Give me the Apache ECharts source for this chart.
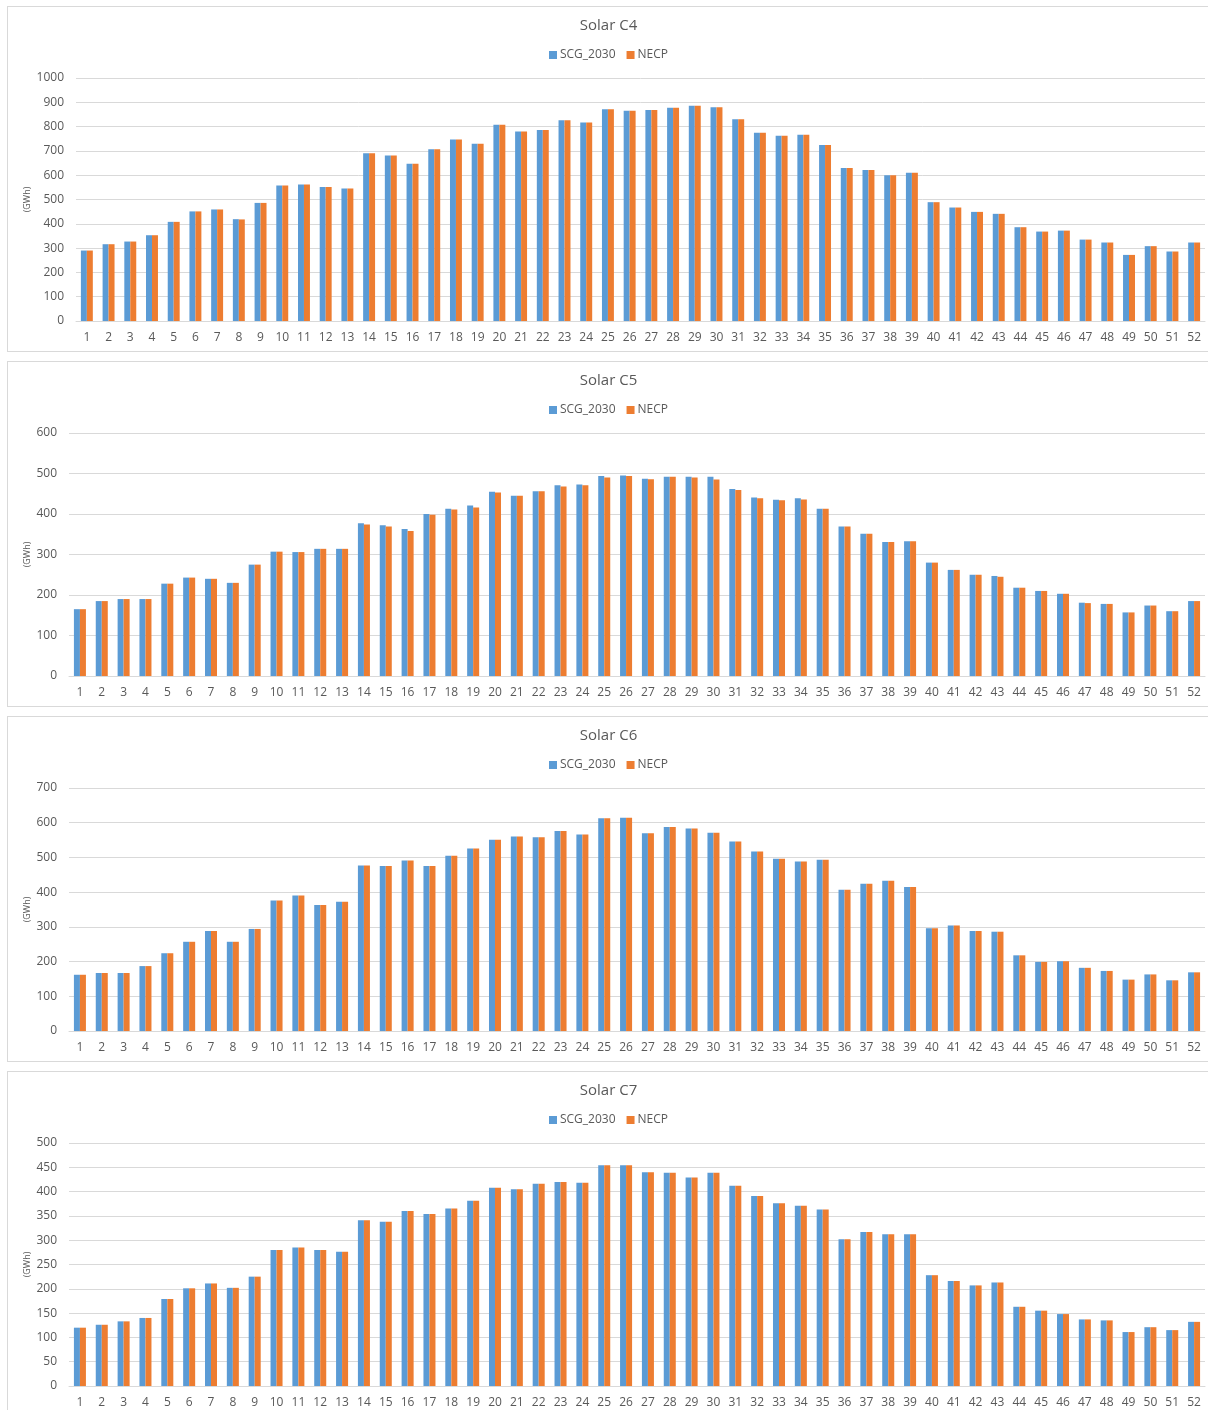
<!DOCTYPE html>
<html lang="en">
<head>
  <meta charset="UTF-8">
  <title>Solar C4 - C7</title>
  <style>
    html, body { margin: 0; padding: 0; background: #fff; overflow: hidden; }
    .panel { position: absolute; left: 7px; width: 1203px; height: 346px;
             border: 1px solid #d9d9d9; box-sizing: border-box; background: #fff; }
  </style>
</head>
<body>
<div id="c4" class="panel" style="top:6px;"></div>
<div id="c5" class="panel" style="top:361px;"></div>
<div id="c6" class="panel" style="top:716px;"></div>
<div id="c7" class="panel" style="top:1071px;"></div>

<script src="https://cdn.jsdelivr.net/npm/echarts@6/dist/echarts.min.js"></script>
<script>
// weeks 1..52
var weeks = ['1','2','3','4','5','6','7','8','9','10','11','12','13','14','15','16','17','18','19','20',
  '21','22','23','24','25','26','27','28','29','30','31','32','33','34','35','36','37','38','39','40',
  '41','42','43','44','45','46','47','48','49','50','51','52'];

var c4Scg = [290,316,327,353,408,451,459,419,486,558,562,551,545,690,681,647,707,747,729,808,
  780,786,826,817,871,865,868,878,886,880,830,775,762,766,724,630,621,600,610,489,
  467,449,441,386,368,372,335,323,272,308,286,323];
var c4Necp = [290,316,327,353,408,451,459,418,486,558,562,551,545,690,681,647,707,747,729,808,
  780,786,826,817,871,865,868,878,886,880,830,775,762,766,724,630,621,600,610,489,
  467,449,441,386,368,372,335,323,272,308,286,323];

var c5Scg = [165,185,190,190,228,243,240,230,275,307,306,314,314,377,372,363,400,413,421,455,
  445,456,471,473,494,495,487,492,492,492,462,441,435,439,413,369,351,331,333,280,
  262,250,247,218,210,203,181,178,157,174,160,185];
var c5Necp = [165,185,190,190,228,243,240,230,275,307,306,314,314,374,369,358,398,411,416,453,
  445,456,468,471,490,494,486,492,490,485,459,439,434,436,413,369,351,331,333,280,
  262,250,245,218,210,203,180,178,157,174,160,185];

var c6Scg = [162,167,167,187,224,257,288,257,294,376,390,363,372,477,475,491,475,505,526,551,
  560,558,576,566,613,614,570,588,583,571,546,517,496,488,493,407,424,433,415,296,
  304,288,286,218,199,201,182,173,148,163,146,169];
var c6Necp = [162,167,167,187,224,257,288,257,294,376,390,363,372,477,475,491,475,505,526,551,
  560,558,576,566,613,614,570,588,583,571,546,517,496,488,493,407,424,433,415,296,
  304,288,286,218,199,201,182,173,148,163,146,169];

var c7Scg = [120,126,133,140,179,201,211,202,225,280,285,280,276,341,338,360,354,365,381,408,
  405,416,420,418,454,454,440,439,429,439,412,391,376,371,363,302,317,312,312,228,
  216,207,213,163,155,148,137,135,111,121,115,132];
var c7Necp = [120,126,133,140,179,201,211,202,225,280,285,280,276,341,338,360,354,365,381,408,
  405,416,420,418,454,454,440,439,429,439,412,391,376,371,363,302,317,312,312,228,
  216,207,213,163,155,148,137,135,111,121,115,132];

var seriesNames = ['SCG_2030', 'NECP'];
var colors = ['#5B9BD5', '#ED7D31'];
var textColor = '#595959';
var font = 'Open Sans';

function makeChart(id, title, scg, necp, yMax, yStep, gridLeft, nameGap) {
  var chart = echarts.init(document.getElementById(id));
  chart.setOption({
    animation: false,
    backgroundColor: '#fff',
    color: colors,
    textStyle: { fontFamily: font },
    title: {
      text: title,
      left: 'center',
      top: 11,
      padding: 0,
      textStyle: { color: textColor, fontSize: 15, fontWeight: 'normal', fontFamily: font }
    },
    legend: {
      data: seriesNames,
      top: 37,
      left: 'center',
      itemWidth: 8,
      itemHeight: 8,
      itemGap: 11,
      icon: 'rect',
      textStyle: { color: textColor, fontSize: 12, fontFamily: font, padding: [0, 0, 0, -2] }
    },
    grid: { left: gridLeft, right: 4, top: 71, height: 243 },
    xAxis: {
      type: 'category',
      data: weeks,
      axisTick: { show: false },
      axisLine: { lineStyle: { color: '#d9d9d9' } },
      axisLabel: { interval: 0, color: textColor, fontSize: 12, margin: 11, fontFamily: font }
    },
    yAxis: {
      type: 'value',
      min: 0,
      max: yMax,
      interval: yStep,
      name: '(GWh)',
      nameLocation: 'middle',
      nameGap: nameGap,
      nameMoveOverlap: false,
      nameTextStyle: { color: textColor, fontSize: 9, fontFamily: font },
      axisLine: { show: false },
      axisTick: { show: false },
      axisLabel: { color: textColor, fontSize: 12, margin: 12, fontFamily: font,
                   formatter: function (v) { return String(v); } },
      splitLine: { lineStyle: { color: '#d9d9d9' } }
    },
    series: [
      { name: seriesNames[0], type: 'bar', data: scg, barGap: '0%', barCategoryGap: '45%' },
      { name: seriesNames[1], type: 'bar', data: necp, barGap: '0%', barCategoryGap: '45%' }
    ]
  });
}

makeChart('c4', 'Solar C4', c4Scg, c4Necp, 1000, 100, 68, 44);
makeChart('c5', 'Solar C5', c5Scg, c5Necp, 600, 100, 61, 37);
makeChart('c6', 'Solar C6', c6Scg, c6Necp, 700, 100, 61, 37);
makeChart('c7', 'Solar C7', c7Scg, c7Necp, 500, 50, 61, 37);
</script>
</body>
</html>
